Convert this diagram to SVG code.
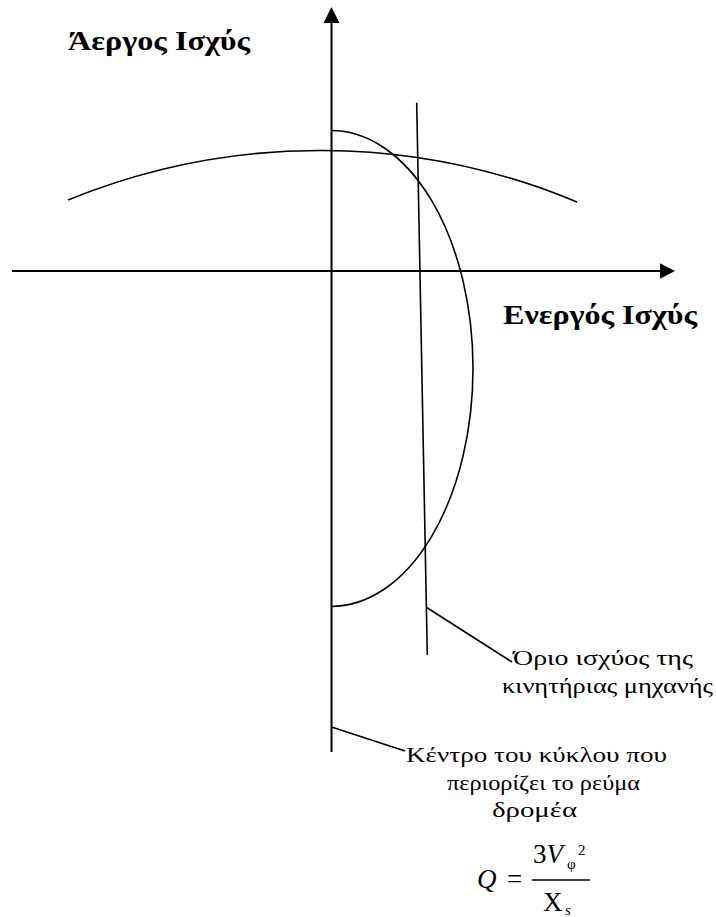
<svg xmlns="http://www.w3.org/2000/svg" width="716" height="917" viewBox="0 0 716 917">
<style>
.ln{fill:none;stroke:#000;stroke-width:1.6}
.ax{fill:none;stroke:#000;stroke-width:2}
.ah{fill:#000;stroke:none}
.bt{font-family:"Liberation Serif","DejaVu Serif","Times New Roman",serif;font-weight:bold;font-size:27px;fill:#000}
.rt{font-family:"Liberation Serif","DejaVu Serif","Times New Roman",serif;font-size:21px;fill:#000}
.mt{font-family:"Liberation Serif","DejaVu Serif","Times New Roman",serif;font-size:27px;fill:#000}
.ms{font-family:"Liberation Serif","DejaVu Serif","Times New Roman",serif;font-size:15px;fill:#000}
</style>
<rect width="716" height="917" fill="#fff"/>
<g id="y-axis">
<line class="ax" x1="331.5" y1="752" x2="331.5" y2="20"/>
<polygon class="ah" points="331.5,7 339.5,23 323.5,23"/>
</g>
<g id="x-axis">
<line class="ax" x1="12" y1="271" x2="663" y2="271"/>
<polygon class="ah" points="675,271 660,263.3 660,278.7"/>
</g>
<g id="big-arc">
<path class="ln" d="M68,200 A666 666 0 0 1 577,202"/>
</g>
<g id="current-limit-circle">
<path class="ln" d="M331,130.5 A142 238 0 0 1 331,606.5"/>
</g>
<g id="prime-mover-limit">
<line class="ln" x1="416.7" y1="102.7" x2="427.3" y2="655"/>
</g>
<g id="label-reactive">
<text class="bt" x="68" y="50" textLength="182" lengthAdjust="spacingAndGlyphs">Άεργος Ισχύς</text>
</g>
<g id="label-active">
<text class="bt" x="503" y="324" textLength="194" lengthAdjust="spacingAndGlyphs">Ενεργός Ισχύς</text>
</g>
<g id="label-prime-mover">
<text class="rt" x="513" y="665" textLength="180" lengthAdjust="spacingAndGlyphs">Όριο ισχύος της</text>
<text class="rt" x="502" y="693" textLength="211" lengthAdjust="spacingAndGlyphs">κινητήριας μηχανής</text>
</g>
<g id="label-center">
<text class="rt" x="406" y="762" textLength="261" lengthAdjust="spacingAndGlyphs">Κέντρο του κύκλου που</text>
<text class="rt" x="447" y="790" textLength="193" lengthAdjust="spacingAndGlyphs">περιορίζει το ρεύμα</text>
<text class="rt" x="492" y="817" textLength="85" lengthAdjust="spacingAndGlyphs">δρομέα</text>
</g>
<g id="formula">
<text class="mt" x="477" y="888" font-style="italic">Q</text>
<text class="mt" x="507" y="888">=</text>
<text class="mt" x="533" y="863">3<tspan font-style="italic">V</tspan></text>
<text class="ms" x="567" y="869">φ</text>
<text class="ms" x="578" y="855">2</text>
<line x1="531.7" y1="880" x2="590" y2="880" stroke="#000" stroke-width="1.3"/>
<text class="mt" x="543" y="911">X</text>
<text class="ms" x="565" y="915" font-style="italic">s</text>
</g>
<g id="connectors">
<line class="ln" x1="426.7" y1="607.5" x2="512" y2="662"/>
<line class="ln" x1="331.5" y1="727" x2="405" y2="751"/>
</g>
</svg>
